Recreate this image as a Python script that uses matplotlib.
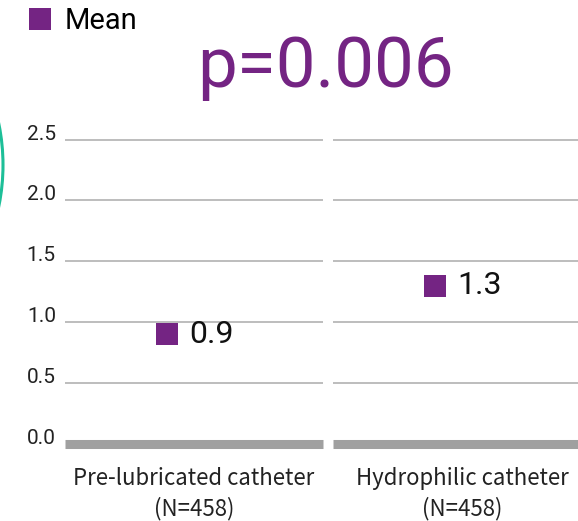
import matplotlib
matplotlib.use("Agg")
import matplotlib.pyplot as plt
from matplotlib.patches import Circle

categories = ["Pre-lubricated catheter\n(N=458)", "Hydrophilic catheter\n(N=458)"]
means = [0.9, 1.3]
mean_labels = ["0.9", "1.3"]
yticks = [0.0, 0.5, 1.0, 1.5, 2.0, 2.5]
p_text = "p=0.006"

purple = "#742483"
grid_grey = "#bdbdbd"
base_grey = "#a0a0a0"

W, H = 578, 521
fig = plt.figure(figsize=(W / 100, H / 100), dpi=100)

# axes placed in pixels; px per data unit ~121.8, right side runs past the figure edge
ppu = 121.8
y0_px = 521 - 444
left_px = 60
ax = fig.add_axes([left_px / W, (y0_px - 0.1 * ppu) / H, 536 / W, 2.7 * ppu / H])
ax.set_xlim(-0.5, 1.5)
ax.set_ylim(-0.1, 2.6)
for s in ax.spines.values():
    s.set_visible(False)

gap = 5 / 268
for i in range(len(categories)):
    xmin, xmax = i - 0.5 + gap, i + 0.5 - gap
    ax.hlines([t for t in yticks if t > 0], xmin, xmax, color=grid_grey, lw=1.4, zorder=1)
    ax.hlines(0, xmin, xmax, color=base_grey, lw=6.5, zorder=1)

xs = [i - 0.1 for i in range(len(categories))]
ax.plot(xs, means, ls="none", marker="s", ms=16.5, mew=0, color=purple, label="Mean", zorder=3)
for x, m, lab in zip(xs, means, mean_labels):
    ax.annotate(lab, (x, m), xytext=(16, 0), textcoords="offset points",
                ha="left", va="center", fontsize=23, family="Roboto", color="#111111")

ax.set_yticks(yticks)
ax.set_yticklabels([f"{t:.1f}" for t in yticks], family="Roboto", fontsize=15, color="#222222")
for lab in ax.get_yticklabels():
    lab.set_verticalalignment("baseline")
ax.set_xticks(range(len(categories)))
ax.set_xticklabels(categories, family="Noto Sans CJK KR", fontsize=16, color="#222222",
                   linespacing=1.32)
ax.tick_params(axis="both", length=0)
ax.tick_params(axis="y", pad=3)
ax.tick_params(axis="x", pad=8)

ax.legend(loc="upper left", bbox_to_anchor=(28 / W, 1 - 7 / H), bbox_transform=fig.transFigure,
          frameon=False, handlelength=0.8, handletextpad=0.45, borderpad=0, borderaxespad=0,
          prop={"family": "Roboto", "size": 21}, markerscale=1.0)

fig.text(197 / W, 1 - 87 / H, p_text, ha="left", va="baseline", fontsize=51,
         family="Roboto", color=purple)

# teal arc peeking in at the left edge
fig.patches.append(Circle((-2.03, (521 - 165) / 100), 2.06, fill=False, ec="#1dbf98", lw=2.2,
                          transform=fig.dpi_scale_trans))

fig.savefig("out.png", dpi=100)
